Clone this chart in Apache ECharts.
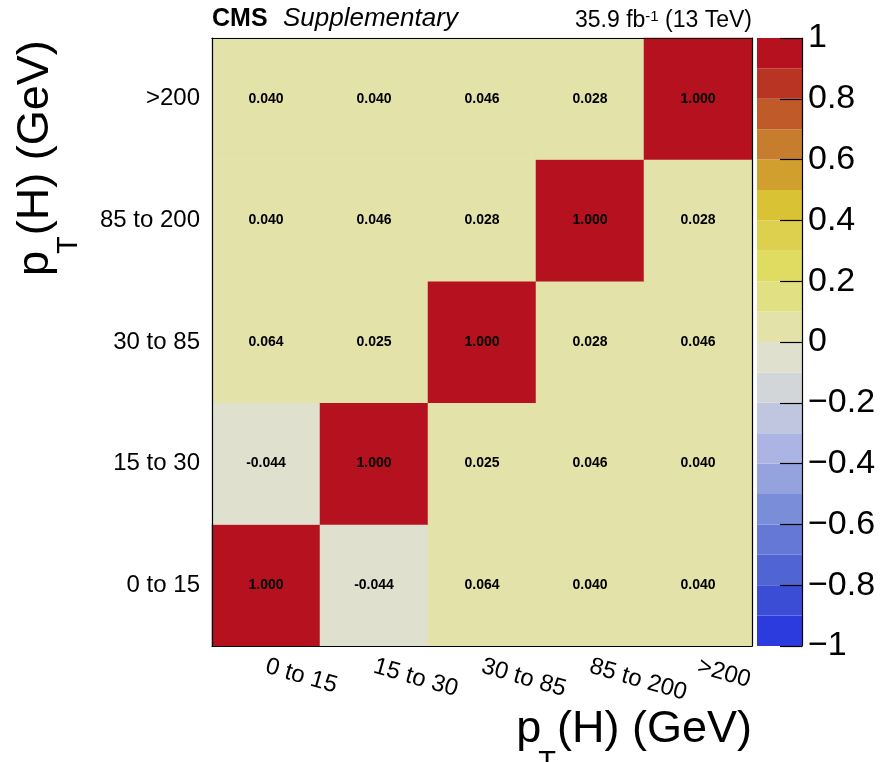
<!DOCTYPE html>
<html>
<head>
<meta charset="utf-8">
<script src="https://cdn.jsdelivr.net/npm/echarts@6/dist/echarts.min.js"></script>
<style>
html,body{margin:0;padding:0;background:#fff;}
#main{width:881px;height:762px;}
</style>
</head>
<body>
<div id="main"></div>
<script>
// ---- data ----
var xCategories = ["0 to 15", "15 to 30", "30 to 85", "85 to 200", ">200"];
var yCategories = ["0 to 15", "15 to 30", "30 to 85", "85 to 200", ">200"];
// rows from bottom (0 to 15) to top (>200); columns follow xCategories
var row_0_15    = [1.000, -0.044, 0.064, 0.040, 0.040];
var row_15_30   = [-0.044, 1.000, 0.025, 0.046, 0.040];
var row_30_85   = [0.064, 0.025, 1.000, 0.028, 0.046];
var row_85_200  = [0.040, 0.046, 0.028, 1.000, 0.028];
var row_200     = [0.040, 0.040, 0.046, 0.028, 1.000];
var rows = [row_0_15, row_15_30, row_30_85, row_85_200, row_200];
// colour levels from -1 to 1 (20 bands)
var levelEdges = [-1, -0.9, -0.8, -0.7, -0.6, -0.5, -0.4, -0.3, -0.2, -0.1, 0, 0.1, 0.2, 0.3, 0.4, 0.5, 0.6, 0.7, 0.8, 0.9, 1];
var levelColors = ["#2C3BDD", "#3C4DD5", "#5164D3", "#6578D5", "#7A8DD8", "#94A2DD", "#ABB4E2", "#C0C6E0", "#D2D6D8", "#DFE0CD",
                   "#E2E2A9", "#E1E184", "#E0DC62", "#DCD04E", "#D9C234", "#D19F2E", "#C67E2E", "#C05A28", "#BA3424", "#B5111F"];

// ---- build ----
var FONT = "Liberation Sans, Arial, Helvetica, sans-serif";
var heatData = [];
rows.forEach(function (r, yi) { r.forEach(function (v, xi) { heatData.push([xi, yi, v]); }); });
var pieces = [];
var bandData = [];
for (var i = 0; i < levelColors.length; i++) {
  var p = { gte: levelEdges[i], color: levelColors[i] };
  if (i === levelColors.length - 1) p.lte = levelEdges[i + 1]; else p.lt = levelEdges[i + 1];
  pieces.push(p);
  bandData.push([0, levelEdges[i], levelEdges[i + 1], i]);
}

var chart = echarts.init(document.getElementById('main'), null, { renderer: 'canvas' });

function measure(text, font) {
  var c = document.createElement('canvas').getContext('2d');
  c.font = font; return c.measureText(text).width;
}

var tFs = 45, subFs = 29;
function titleGroup(x, y, rot) {
  var wp = measure('p', tFs + 'px ' + FONT);
  var wT = measure('T', subFs + 'px ' + FONT);
  return {
    type: 'group', x: x, y: y, rotation: rot, silent: true,
    children: [
      { type: 'text', x: 0, y: 0, style: { text: 'p', font: tFs + 'px ' + FONT, fill: '#000', textAlign: 'left', textVerticalAlign: 'bottom' } },
      { type: 'text', x: wp - 3, y: -4, style: { text: 'T', font: subFs + 'px ' + FONT, fill: '#000', textAlign: 'left', textVerticalAlign: 'top' } },
      { type: 'text', x: wp - 3 + wT + 1, y: 0, style: { text: '(H) (GeV)', font: tFs + 'px ' + FONT, fill: '#000', textAlign: 'left', textVerticalAlign: 'bottom' } }
    ]
  };
}
var xTitleWidth = measure('p', tFs + 'px ' + FONT) - 3 + measure('T', subFs + 'px ' + FONT) + 1 + measure('(H) (GeV)', tFs + 'px ' + FONT);

var lumiFs = 23, supFs = 15;
var wLumiRight = measure(' (13 TeV)', lumiFs + 'px ' + FONT);
var wSup = measure('-1', supFs + 'px ' + FONT);

var option = {
  backgroundColor: '#fff',
  animation: false,
  grid: [
    { left: 212, top: 38, width: 540, height: 608, show: false },
    { left: 757, top: 38, width: 45, height: 608, show: false }
  ],
  xAxis: [
    { type: 'category', gridIndex: 0, data: xCategories, position: 'bottom', z: 10,
      axisLine: { lineStyle: { color: '#000', width: 1.2 } },
      axisTick: { inside: true, length: 14, interval: 0, lineStyle: { color: '#000', width: 1.2 } },
      axisLabel: { interval: 0, rotate: -16, margin: 20, fontSize: 24, color: '#000', fontFamily: FONT },
      splitLine: { show: false } },
    { type: 'category', gridIndex: 0, data: xCategories, position: 'top', z: 10,
      axisLine: { lineStyle: { color: '#000', width: 1.2 } },
      axisTick: { inside: true, length: 14, interval: 0, lineStyle: { color: '#000', width: 1.2 } },
      axisLabel: { show: false }, splitLine: { show: false } },
    { type: 'category', gridIndex: 1, data: ['cb'], show: false }
  ],
  yAxis: [
    { type: 'category', gridIndex: 0, data: yCategories, position: 'left', z: 10,
      axisLine: { lineStyle: { color: '#000', width: 1.2 } },
      axisTick: { inside: true, length: 22, interval: 0, lineStyle: { color: '#000', width: 1.2 } },
      axisLabel: { interval: 0, margin: 12, fontSize: 24, color: '#000', fontFamily: FONT },
      splitLine: { show: false } },
    { type: 'category', gridIndex: 0, data: yCategories, position: 'right', z: 10,
      axisLine: { lineStyle: { color: '#000', width: 1.2 } },
      axisTick: { inside: true, length: 22, interval: 0, lineStyle: { color: '#000', width: 1.2 } },
      axisLabel: { show: false }, splitLine: { show: false } },
    { type: 'value', gridIndex: 1, min: -1, max: 1, interval: 0.2, position: 'right', z: 10,
      axisLine: { show: true, lineStyle: { color: '#000', width: 1.2 } },
      axisTick: { show: true, inside: true, length: 22, lineStyle: { color: '#000', width: 1.2 } },
      axisLabel: { margin: 6, fontSize: 34, color: '#000', fontFamily: FONT,
        formatter: function (v) {
          var r = Math.round(v * 10) / 10;
          if (Math.abs(r) < 1e-9) return '0';
          var s = String(Math.abs(r));
          return (r < 0 ? '\u2212' : '') + s;
        } },
      splitLine: { show: false } }
  ],
  visualMap: {
    type: 'piecewise', show: false, seriesIndex: 0, dimension: 2, pieces: pieces
  },
  series: [
    { type: 'heatmap', xAxisIndex: 0, yAxisIndex: 0, data: heatData,
      itemStyle: { borderWidth: 0 },
      label: { show: true, color: '#000', fontSize: 14, fontWeight: 'bold', fontFamily: FONT,
        formatter: function (p) { return p.value[2].toFixed(3); } },
      emphasis: { disabled: true } },
    { type: 'custom', xAxisIndex: 2, yAxisIndex: 2, data: bandData,
      renderItem: function (params, api) {
        var lo = api.coord([0, api.value(1)]);
        var hi = api.coord([0, api.value(2)]);
        var cs = params.coordSys;
        return { type: 'rect', shape: { x: cs.x, y: hi[1], width: cs.width, height: lo[1] - hi[1] },
          style: { fill: levelColors[api.value(3)], stroke: null } };
      } }
  ],
  graphic: [
    { type: 'text', x: 212, y: 32, silent: true, style: { text: 'CMS', font: 'bold 25px ' + FONT, fill: '#000', textAlign: 'left', textVerticalAlign: 'bottom' } },
    { type: 'text', x: 283, y: 32, silent: true, style: { text: 'Supplementary', font: 'italic 26px ' + FONT, fill: '#000', textAlign: 'left', textVerticalAlign: 'bottom' } },
    { type: 'text', x: 752, y: 32, silent: true, style: { text: ' (13 TeV)', font: lumiFs + 'px ' + FONT, fill: '#000', textAlign: 'right', textVerticalAlign: 'bottom' } },
    { type: 'text', x: 752 - wLumiRight, y: 24, silent: true, style: { text: '-1', font: supFs + 'px ' + FONT, fill: '#000', textAlign: 'right', textVerticalAlign: 'bottom' } },
    { type: 'text', x: 752 - wLumiRight - wSup, y: 32, silent: true, style: { text: '35.9 fb', font: lumiFs + 'px ' + FONT, fill: '#000', textAlign: 'right', textVerticalAlign: 'bottom' } },
    titleGroup(752 - xTitleWidth, 752, 0),
    titleGroup(58, 276, Math.PI / 2)
  ]
};
chart.setOption(option);
</script>
</body>
</html>
